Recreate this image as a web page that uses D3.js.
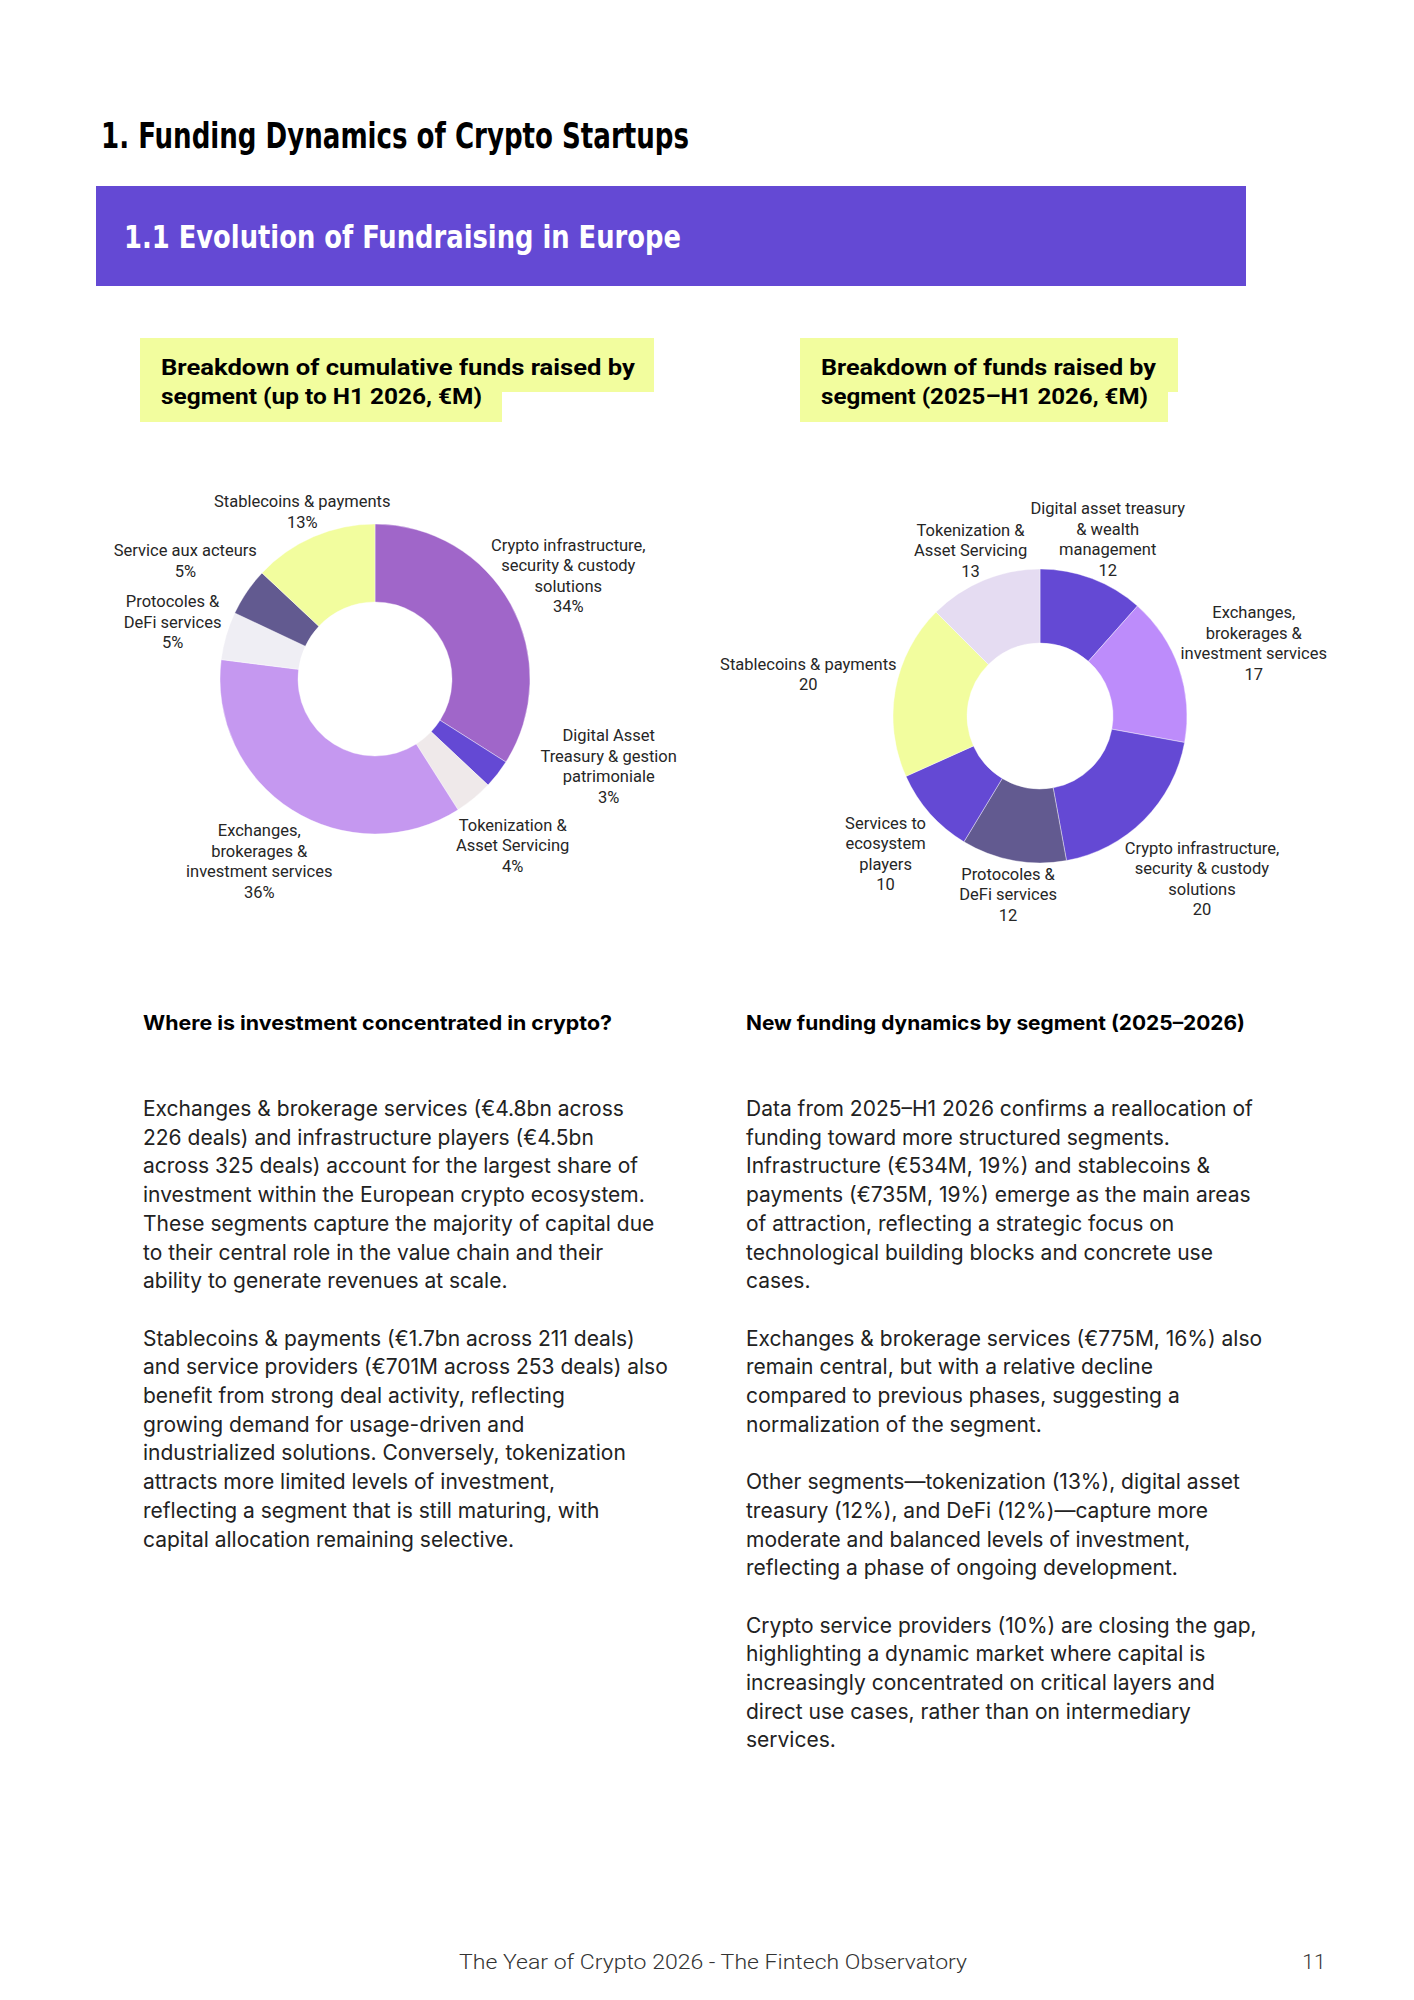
<!DOCTYPE html>
<html>
<head>
<meta charset="utf-8">
<script src="https://cdn.jsdelivr.net/npm/d3@7"></script>
<style>
  body { margin: 0; background: #fff; }
  svg { display: block; }
</style>
</head>
<body>
<div id="page"></div>
<script>
// ---- data: cumulative funds raised by segment (up to H1 2026, share in %)
const cumulLabels = [
    ["Crypto infrastructure,", "security & custody", "solutions"],
    ["Digital Asset", "Treasury & gestion", "patrimoniale"],
    ["Tokenization &", "Asset Servicing"],
    ["Exchanges,", "brokerages &", "investment services"],
    ["Protocoles &", "DeFi services"],
    ["Service aux acteurs"],
    ["Stablecoins & payments"]
];
const cumulShares = [34, 3, 4, 36, 5, 5, 13];

// ---- data: funds raised by segment (2025-H1 2026)
const recentLabels = [
    ["Digital asset treasury", "& wealth", "management"],
    ["Exchanges,", "brokerages &", "investment services"],
    ["Crypto infrastructure,", "security & custody", "solutions"],
    ["Protocoles &", "DeFi services"],
    ["Services to", "ecosystem", "players"],
    ["Stablecoins & payments"],
    ["Tokenization &", "Asset Servicing"]
];
const recentValues = [12, 17, 20, 12, 10, 20, 13];

// ---- page texts
const pageTitle = "1. Funding Dynamics of Crypto Startups";
const bandTitle = "1.1 Evolution of Fundraising in Europe";
const leftBoxTitle = ["Breakdown of cumulative funds raised by", "segment (up to H1 2026, €M)"];
const rightBoxTitle = ["Breakdown of funds raised by", "segment (2025–H1 2026, €M)"];
const leftHeading = "Where is investment concentrated in crypto?";
const rightHeading = "New funding dynamics by segment (2025–2026)";
const leftBody = [
    "Exchanges & brokerage services (€4.8bn across",
    "226 deals) and infrastructure players (€4.5bn",
    "across 325 deals) account for the largest share of",
    "investment within the European crypto ecosystem.",
    "These segments capture the majority of capital due",
    "to their central role in the value chain and their",
    "ability to generate revenues at scale.",
    "",
    "Stablecoins & payments (€1.7bn across 211 deals)",
    "and service providers (€701M across 253 deals) also",
    "benefit from strong deal activity, reflecting",
    "growing demand for usage-driven and",
    "industrialized solutions. Conversely, tokenization",
    "attracts more limited levels of investment,",
    "reflecting a segment that is still maturing, with",
    "capital allocation remaining selective."
];
const rightBody = [
    "Data from 2025–H1 2026 confirms a reallocation of",
    "funding toward more structured segments.",
    "Infrastructure (€534M, 19%) and stablecoins &",
    "payments (€735M, 19%) emerge as the main areas",
    "of attraction, reflecting a strategic focus on",
    "technological building blocks and concrete use",
    "cases.",
    "",
    "Exchanges & brokerage services (€775M, 16%) also",
    "remain central, but with a relative decline",
    "compared to previous phases, suggesting a",
    "normalization of the segment.",
    "",
    "Other segments—tokenization (13%), digital asset",
    "treasury (12%), and DeFi (12%)—capture more",
    "moderate and balanced levels of investment,",
    "reflecting a phase of ongoing development.",
    "",
    "Crypto service providers (10%) are closing the gap,",
    "highlighting a dynamic market where capital is",
    "increasingly concentrated on critical layers and",
    "direct use cases, rather than on intermediary",
    "services."
];
const footerText = "The Year of Crypto 2026 - The Fintech Observatory";
const pageNumber = "11";

// ---- styles / layout
const W = 1414, H = 2000;
const purple = "#6449d4";
const yellow = "#f2fd9e";
const condensed = "'Liberation Sans Narrow', 'DejaVu Sans Condensed', 'Roboto', sans-serif";
const labelFont = "Roboto, 'Noto Sans', sans-serif";
const bodyFont = "Inter, 'Open Sans', sans-serif";

const cumulCfg = {
    cx: 375, cy: 679, outer: 155, inner: 77, labelR: 216,
    colors: ["#a066c9", "#6449d4", "#efe9ea", "#c598f0", "#efeef4", "#625a90", "#f2fd9e"],
    nudge: [[4, 1], [63, -45], [0, 0], [0, 0], [5, 3], [-11, 3], [13, 31]],
    fmt: v => v + "%"
};
const recentCfg = {
    cx: 1040, cy: 716, outer: 147, inner: 73, labelR: 205,
    colors: ["#6449d4", "#bd8cfb", "#6449d4", "#625a90", "#6449d4", "#f2fd9e", "#e5dcf2"],
    nudge: [[-5, 15], [20, -6], [17, 18], [5, -23], [-1, 2], [-30, -5], [9, 24]],
    fmt: v => String(v)
};

const svg = d3.select("#page")
    .append("svg")
    .attr("width", W)
    .attr("height", H);

svg.append("rect").attr("width", W).attr("height", H).attr("fill", "#fff");

// Page title
svg.append("text")
    .attr("x", 101).attr("y", 148)
    .attr("font-family", condensed)
    .attr("font-weight", 700)
    .attr("font-size", 36)
    .attr("textLength", 588)
    .attr("lengthAdjust", "spacingAndGlyphs")
    .attr("fill", "#000")
    .text(pageTitle);

// Purple section band
svg.append("rect")
    .attr("x", 96).attr("y", 186)
    .attr("width", 1150).attr("height", 100)
    .attr("fill", purple);

svg.append("text")
    .attr("x", 124).attr("y", 248)
    .attr("font-family", condensed)
    .attr("font-weight", 700)
    .attr("font-size", 32)
    .attr("textLength", 557)
    .attr("lengthAdjust", "spacingAndGlyphs")
    .attr("fill", "#fff")
    .text(bandTitle);

// Yellow highlighted chart titles (two stacked highlight strips)
function boxTitle(x, lines, widths, strips) {
    const g = svg.append("g");
    g.append("rect").attr("x", x).attr("y", 338)
        .attr("width", strips[0]).attr("height", 54).attr("fill", yellow);
    g.append("rect").attr("x", x).attr("y", 391)
        .attr("width", strips[1]).attr("height", 31).attr("fill", yellow);
    lines.forEach((t, i) => {
        g.append("text")
            .attr("x", x + 21).attr("y", 375 + i * 28.5)
            .attr("font-family", labelFont)
            .attr("font-weight", 700)
            .attr("font-size", 22.5)
            .attr("textLength", widths[i])
            .attr("lengthAdjust", "spacingAndGlyphs")
            .attr("fill", "#000")
            .text(t);
    });
}
boxTitle(140, leftBoxTitle, [474, 321], [514, 362]);
boxTitle(800, rightBoxTitle, [335, 327], [378, 368]);

// Donut charts
function drawDonut(labels, values, cfg) {
    const arcs = d3.pie().sort(null).value(d => d)(values);
    const arc = d3.arc().innerRadius(cfg.inner).outerRadius(cfg.outer);
    const g = svg.append("g").attr("transform", `translate(${cfg.cx},${cfg.cy})`);

    g.selectAll("path.slice")
        .data(arcs)
        .join("path")
        .attr("class", "slice")
        .attr("d", arc)
        .attr("fill", (d, i) => cfg.colors[i])
        .attr("stroke", "#fff")
        .attr("stroke-width", 0.4);

    const lh = 20.5, fs = 16.5;
    arcs.forEach((d, i) => {
        const mid = (d.startAngle + d.endAngle) / 2;
        const x = Math.sin(mid) * cfg.labelR + cfg.nudge[i][0];
        const y = -Math.cos(mid) * cfg.labelR + cfg.nudge[i][1];
        const lines = labels[i].concat([cfg.fmt(d.data)]);
        const top = y - (lines.length - 1) / 2 * lh + fs * 0.35;
        const t = g.append("text")
            .attr("text-anchor", "middle")
            .attr("font-family", labelFont)
            .attr("font-size", fs)
            .attr("fill", "#262626");
        lines.forEach((s, k) => {
            t.append("tspan").attr("x", x).attr("y", top + k * lh).text(s);
        });
    });
}
drawDonut(cumulLabels, cumulShares, cumulCfg);
drawDonut(recentLabels, recentValues, recentCfg);

// Commentary columns
function column(x, heading, headingWidth, lines) {
    svg.append("text")
        .attr("x", x).attr("y", 1030)
        .attr("font-family", bodyFont)
        .attr("font-weight", 700)
        .attr("font-size", 20)
        .attr("textLength", headingWidth)
        .attr("lengthAdjust", "spacingAndGlyphs")
        .attr("fill", "#000")
        .text(heading);
    svg.append("g").selectAll("text")
        .data(lines)
        .join("text")
        .attr("x", x)
        .attr("y", (d, i) => 1116 + i * 28.7)
        .attr("font-family", bodyFont)
        .attr("font-size", 21)
        .attr("fill", "#222")
        .text(d => d);
}
column(143, leftHeading, 469, leftBody);
column(746, rightHeading, 499, rightBody);

// Footer
svg.append("text")
    .attr("x", 713).attr("y", 1969)
    .attr("text-anchor", "middle")
    .attr("font-family", labelFont)
    .attr("font-weight", 300)
    .attr("font-size", 21)
    .attr("textLength", 508)
    .attr("lengthAdjust", "spacingAndGlyphs")
    .attr("fill", "#333")
    .text(footerText);

svg.append("text")
    .attr("x", 1314).attr("y", 1969)
    .attr("text-anchor", "middle")
    .attr("font-family", labelFont)
    .attr("font-weight", 300)
    .attr("font-size", 21)
    .attr("fill", "#333")
    .text(pageNumber);
</script>
</body>
</html>
